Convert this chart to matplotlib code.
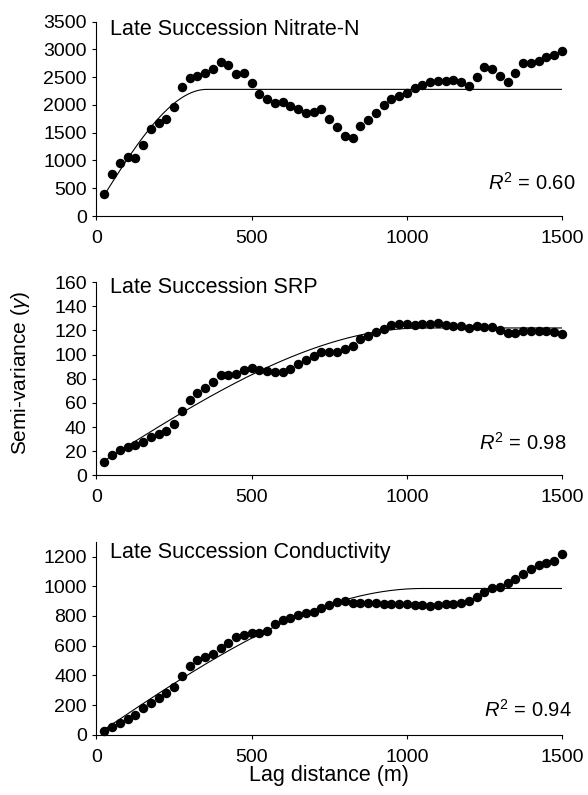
import numpy as np
import matplotlib
matplotlib.use("Agg")
import matplotlib.pyplot as plt

plt.rcParams['font.family'] = ['Liberation Sans', 'DejaVu Sans']
plt.rcParams['mathtext.fontset'] = 'custom'
plt.rcParams['mathtext.rm'] = 'Liberation Sans'
plt.rcParams['mathtext.it'] = 'Liberation Sans:italic'

# lag distances (m)
lag = [25, 50, 75, 100, 125, 150, 175, 200, 225, 250,
       275, 300, 325, 350, 375, 400, 425, 450, 475, 500,
       525, 550, 575, 600, 625, 650, 675, 700, 725, 750,
       775, 800, 825, 850, 875, 900, 925, 950, 975, 1000,
       1025, 1050, 1075, 1100, 1125, 1150, 1175, 1200, 1225, 1250,
       1275, 1300, 1325, 1350, 1375, 1400, 1425, 1450, 1475, 1500]

# semi-variance
nitrate = [390, 760, 960, 1060, 1050, 1270, 1570, 1680, 1750, 1955,
           2320, 2480, 2520, 2570, 2650, 2780, 2720, 2560, 2580, 2400,
           2200, 2105, 2030, 2060, 1985, 1930, 1850, 1880, 1935, 1750,
           1595, 1450, 1400, 1625, 1730, 1850, 2005, 2105, 2170, 2220,
           2310, 2355, 2405, 2440, 2425, 2450, 2410, 2350, 2500, 2680,
           2645, 2525, 2405, 2570, 2765, 2760, 2790, 2860, 2900, 2980]

srp = [11, 17, 21, 23.4, 25, 28, 32, 34, 36.7, 42.5,
       53.5, 62, 68, 72.3, 77, 83.3, 83.3, 84, 87.4, 88.6,
       87.4, 86.3, 85.2, 85.5, 88.3, 92.4, 95.4, 98.5, 102, 102,
       102, 105, 106.8, 112.6, 115, 118.3, 121.4, 124.7, 125, 125,
       124.1, 125, 125, 126.3, 124.7, 123.9, 123.3, 121.9, 123.6, 123,
       122.5, 120.3, 118, 118, 119.4, 119.4, 119.4, 119.2, 118.6, 117]

conductivity = [22, 51, 80, 107, 136, 178, 216, 249, 278, 322,
                393, 460, 504, 522, 544, 582, 618, 656, 671, 687,
                684, 702, 749, 773, 789, 807, 820, 827, 855, 873,
                891, 904, 884, 884, 887, 887, 882, 880, 878, 878,
                876, 873, 869, 871, 878, 882, 884, 902, 927, 960,
                989, 998, 1020, 1047, 1082, 1115, 1144, 1158, 1171, 1215]

# fitted spherical models: nugget, partial sill, range (m)
nitrate_fit = [153, 2128, 355]
srp_fit = [8, 114, 1050]
conductivity_fit = [0, 985, 1050]

titles = ["Late Succession Nitrate-N", "Late Succession SRP",
          "Late Succession Conductivity"]
r2_labels = ["0.60", "0.98", "0.94"]
y_limits = [3500, 160, 1300]
y_ticks = [np.arange(0, 3501, 500), np.arange(0, 161, 20), np.arange(0, 1201, 200)]


def spherical(h, nugget, psill, rng):
    r = np.minimum(np.asarray(h, dtype=float) / rng, 1.0)
    return nugget + psill * (1.5 * r - 0.5 * r ** 3)


fig = plt.figure(figsize=(5.88, 7.95), dpi=100)
rects = [[0.1641, 0.7283, 0.7917, 0.2444],
         [0.1641, 0.4021, 0.7917, 0.2431],
         [0.1641, 0.0758, 0.7917, 0.2428]]
series = [nitrate, srp, conductivity]
fits = [nitrate_fit, srp_fit, conductivity_fit]
title_y = [0.96, 0.972, 0.945]
r2_pos = [(1.03, 0.171), (1.01, 0.169), (1.02, 0.128)]

h = np.linspace(lag[0], lag[-1], 400)
for i in range(3):
    ax = fig.add_axes(rects[i])
    ax.plot(h, spherical(h, *fits[i]), color='black', lw=0.8, zorder=2)
    ax.plot(lag, series[i], 'o', color='black', ms=5.8, zorder=3, clip_on=False)
    ax.set_xlim(0, 1500)
    ax.set_ylim(0, y_limits[i])
    ax.set_xticks([0, 500, 1000, 1500])
    ax.set_yticks(y_ticks[i])
    for s in ['top', 'right']:
        ax.spines[s].set_visible(False)
    for s in ['left', 'bottom']:
        ax.spines[s].set_linewidth(0.8)
    ax.tick_params(direction='out', length=3, width=0.8, labelsize=14)
    ax.tick_params(axis='x', pad=7)
    ax.tick_params(axis='y', pad=4)
    ax.text(0.028, title_y[i], titles[i], transform=ax.transAxes,
            fontsize=15.5, ha='left', va='center')
    ax.text(r2_pos[i][0], r2_pos[i][1], r"$R^2$ = " + r2_labels[i],
            transform=ax.transAxes, fontsize=14.5, ha='right', va='center')

fig.text(21 / 588, 0.531, r"Semi-variance ($\gamma$)", rotation=90,
         fontsize=15, ha='center', va='center')
fig.text(0.5595, 0.025, "Lag distance (m)", fontsize=15.5, ha='center', va='center')

fig.savefig("out.png", dpi=100)
